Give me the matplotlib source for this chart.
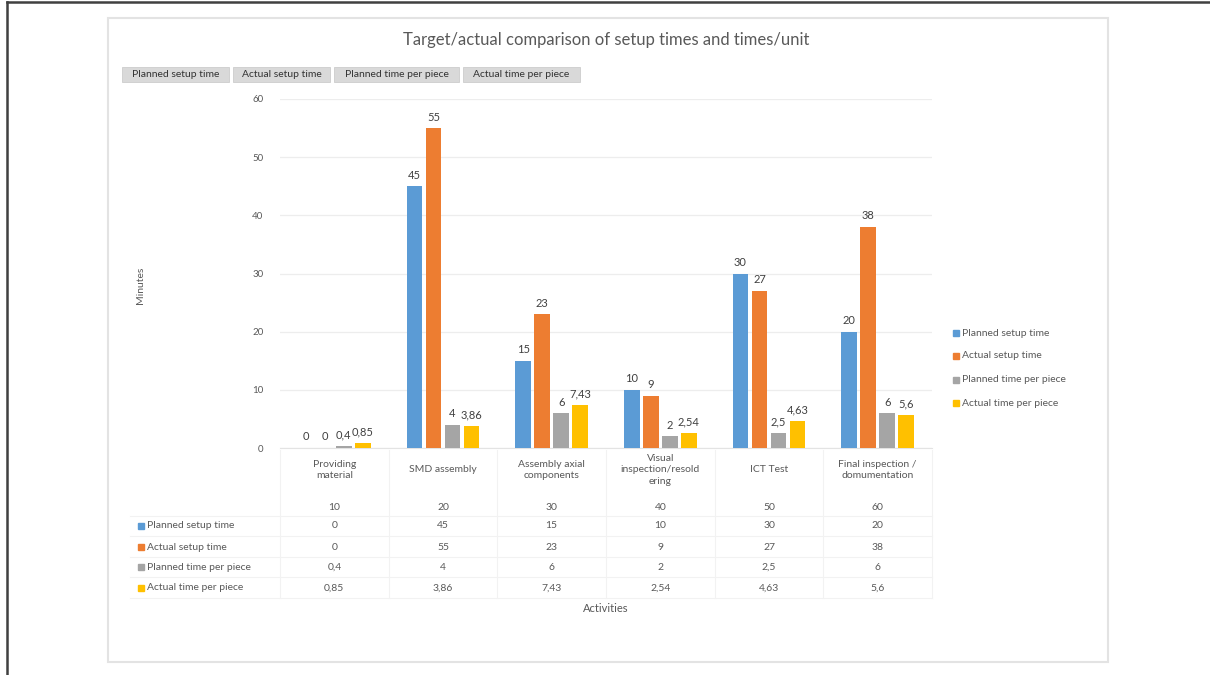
import numpy as np
import matplotlib
matplotlib.use("Agg")
import matplotlib.pyplot as plt
import matplotlib.transforms as mtransforms
from matplotlib.patches import Rectangle
from matplotlib.lines import Line2D

plt.rcParams['font.family'] = ['Lato', 'DejaVu Sans']

# --- data ---
categories = ["Providing\nmaterial", "SMD assembly", "Assembly axial\ncomponents",
              "Visual\ninspection/resold\nering", "ICT Test",
              "Final inspection /\ndomumentation"]
series_names = ["Planned setup time", "Actual setup time",
                "Planned time per piece", "Actual time per piece"]
planned_setup = [0, 45, 15, 10, 30, 20]
actual_setup = [0, 55, 23, 9, 27, 38]
planned_piece = [0.4, 4, 6, 2, 2.5, 6]
actual_piece = [0.85, 3.86, 7.43, 2.54, 4.63, 5.6]
extra_row = [10, 20, 30, 40, 50, 60]
y_ticks = [0, 10, 20, 30, 40, 50, 60]

series = [planned_setup, actual_setup, planned_piece, actual_piece]
colors = ["#5B9BD5", "#ED7D31", "#A5A5A5", "#FFC000"]
TXT = "#595959"

W, H = 1210, 675
def fy(y):
    return 1 - y / H
def fx(x):
    return x / W

def fmt(v):
    if float(v).is_integer():
        return str(int(v))
    return str(v).replace('.', ',')

fig = plt.figure(figsize=(12.1, 6.75), dpi=100)

# page frame and chart-area box
fig.add_artist(Line2D([fx(7), fx(7)], [0, fy(2)], color="#404040", lw=1.8))
fig.add_artist(Line2D([fx(7), 1], [fy(2), fy(2)], color="#404040", lw=1.8))
fig.add_artist(Rectangle((fx(108), fy(662)), fx(1000), 644 / H, fill=False,
                         edgecolor="#e3e3e3", lw=1.5))

ax = fig.add_axes([fx(280), fy(448), fx(652), 349 / H])
x = np.arange(len(categories))
bw = 0.143
step = 0.175
for i, (vals, col) in enumerate(zip(series, colors)):
    pos = x + (i - 1.5) * step
    bars = ax.bar(pos, vals, bw, color=col, label=series_names[i], zorder=3)
    for b, v in zip(bars, vals):
        ax.annotate(fmt(v), (b.get_x() + b.get_width() / 2, v), xytext=(0, 4),
                    textcoords="offset points", ha="center", va="bottom",
                    fontsize=8, color="#404040")

ax.set_xlim(-0.5, len(categories) - 0.5)
ax.set_ylim(0, 60)
ax.set_yticks(y_ticks)
ax.set_yticklabels([str(t) for t in y_ticks], fontsize=7, color=TXT)
ax.set_xticks([])
ax.tick_params(axis="y", length=0, pad=12)
ax.grid(axis="y", color="#ededed", lw=0.9, zorder=0)
for s in ["top", "right", "left"]:
    ax.spines[s].set_visible(False)
ax.spines["bottom"].set_color("#e3e3e3")

fig.text(fx(140), fy(285), "Minutes", rotation=90, ha="center", va="center",
         fontsize=7.5, color=TXT)

# title
fig.text(fx(606), fy(40), "Target/actual comparison of setup times and times/unit",
         ha="center", va="center", fontsize=12, color=TXT)

# field buttons at the top
btn_x = [122, 233, 334, 463]
btn_w = [107, 97, 125, 117]
for bx, bwid, name in zip(btn_x, btn_w, series_names):
    fig.add_artist(Rectangle((fx(bx), fy(82)), fx(bwid), 15 / H,
                             fc="#d9d9d9", ec="#cccccc", lw=0.6))
    fig.text(fx(bx + bwid / 2), fy(74.5), name, ha="center", va="center",
             fontsize=7.5, color="#333333")

# legend on the right
leg_y = [333, 356, 380, 403]
for ly, name, col in zip(leg_y, series_names, colors):
    fig.add_artist(Rectangle((fx(953), fy(ly + 3)), fx(6), 6 / H, color=col))
    fig.text(fx(962), fy(ly), name, ha="left", va="center", fontsize=7.5, color=TXT)

# data table below the plot
tr = mtransforms.blended_transform_factory(ax.transData, fig.transFigure)
for xi, cat in zip(x, categories):
    fig.text(xi, fy(470), cat, transform=tr, ha="center", va="center",
             fontsize=7.5, color=TXT, linespacing=1.3)
row_y = [507, 526, 547, 567, 588]
rows = [extra_row] + series
for ry, vals in zip(row_y, rows):
    for xi, v in zip(x, vals):
        fig.text(xi, fy(ry), fmt(v), transform=tr, ha="center", va="center",
                 fontsize=7.5, color=TXT)
for ry, name, col in zip(row_y[1:], series_names, colors):
    fig.add_artist(Rectangle((fx(138), fy(ry + 3)), fx(6), 6 / H, color=col))
    fig.text(fx(147), fy(ry), name, ha="left", va="center", fontsize=7.5, color=TXT)

# faint table grid
for b in np.arange(len(categories) + 1) - 0.5:
    fig.add_artist(Line2D([b, b], [fy(598), fy(450)], transform=tr,
                          color="#f2f2f2", lw=0.8))
for hy in [516, 536, 557, 577, 598]:
    fig.add_artist(Line2D([fx(130), fx(932)], [fy(hy), fy(hy)],
                          color="#f2f2f2", lw=0.8))

fig.text(fx(606), fy(609), "Activities", ha="center", va="center",
         fontsize=8, color=TXT)

fig.savefig("out.png", dpi=100)
